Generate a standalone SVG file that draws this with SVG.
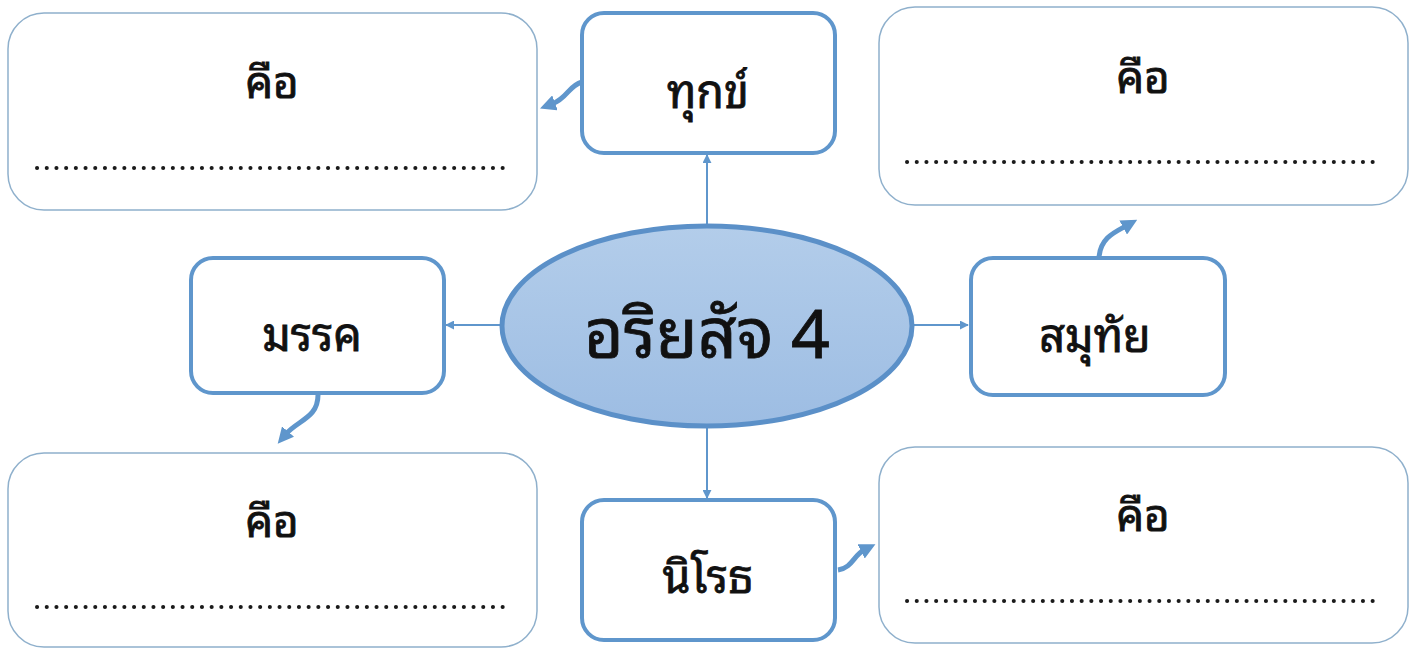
<svg xmlns="http://www.w3.org/2000/svg" width="1416" height="648" viewBox="0 0 1416 648">
<defs>
<style>
.ans{fill:#ffffff;stroke:#8fb0cc;stroke-width:1.5}
.lab{fill:#ffffff;stroke:#5f96cc;stroke-width:4}
.t{font-family:"Noto Sans Thai Looped","Noto Serif Thai","Noto Sans Thai","Noto Sans","Liberation Sans",sans-serif;fill:#111;text-anchor:middle;stroke:#111;stroke-width:0.8}
.dots{stroke:#1a1a1a;stroke-width:4;stroke-dasharray:0.1 9.6;stroke-linecap:round;fill:none}
.con{stroke:#5f96cc;stroke-width:2;fill:none}
.curv{stroke:#5f96cc;stroke-width:5;fill:none}
</style>
<marker id="ah" viewBox="0 0 10 10" refX="9" refY="5" markerWidth="9" markerHeight="9" orient="auto" markerUnits="userSpaceOnUse">
<path d="M0,0 L10,5 L0,10 z" fill="#5f96cc"/>
</marker>
<marker id="ahb" viewBox="0 0 10 10" refX="2" refY="5" markerWidth="16" markerHeight="16" orient="auto" markerUnits="userSpaceOnUse">
<path d="M0,0 L10,5 L0,10 z" fill="#5f96cc"/>
</marker>
<linearGradient id="eg" x1="0" y1="0" x2="0" y2="1">
<stop offset="0" stop-color="#b3cdea"/>
<stop offset="1" stop-color="#9dbde3"/>
</linearGradient>
</defs>
<rect width="1416" height="648" fill="#ffffff"/>
<g id="connectors">
<line class="con" x1="707" y1="226" x2="707" y2="155" marker-end="url(#ah)"/>
<line class="con" x1="502" y1="325" x2="446" y2="325" marker-end="url(#ah)"/>
<line class="con" x1="912" y1="325" x2="968" y2="325" marker-end="url(#ah)"/>
<line class="con" x1="707" y1="427" x2="707" y2="498" marker-end="url(#ah)"/>
<path class="curv" d="M582,82 C568,86 568,98 552,104" marker-end="url(#ahb)"/>
<path class="curv" d="M1099,258 C1100,238 1115,232 1126,226" marker-end="url(#ahb)"/>
<path class="curv" d="M318,395 C318,418 298,420 286,434" marker-end="url(#ahb)"/>
<path class="curv" d="M838,570 C852,568 854,555 864,550" marker-end="url(#ahb)"/>
</g>
<g id="ans-tl">
<rect class="ans" x="8" y="13" width="529" height="197" rx="36"/>
<text class="t" x="272" y="98" font-size="44">คือ</text>
<line class="dots" x1="37" y1="168" x2="506" y2="168"/>
</g>
<g id="ans-tr">
<rect class="ans" x="879" y="7" width="529" height="198" rx="36"/>
<text class="t" x="1143" y="93" font-size="44">คือ</text>
<line class="dots" x1="907" y1="162" x2="1379" y2="162"/>
</g>
<g id="ans-bl">
<rect class="ans" x="8" y="453" width="529" height="194" rx="36"/>
<text class="t" x="272" y="537" font-size="44">คือ</text>
<line class="dots" x1="37" y1="607" x2="506" y2="607"/>
</g>
<g id="ans-br">
<rect class="ans" x="879" y="447" width="529" height="196" rx="36"/>
<text class="t" x="1143" y="531" font-size="44">คือ</text>
<line class="dots" x1="907" y1="601" x2="1379" y2="601"/>
</g>
<g id="dukkha">
<rect class="lab" x="582" y="13" width="253" height="140" rx="22"/>
<text class="t" x="708" y="108" font-size="45">ทุกข์</text>
</g>
<g id="magga">
<rect class="lab" x="191" y="258" width="253" height="135" rx="22"/>
<text class="t" x="312" y="351" font-size="45">มรรค</text>
</g>
<g id="samudaya">
<rect class="lab" x="971" y="258" width="254" height="137" rx="22"/>
<text class="t" x="1095" y="352" font-size="45">สมุทัย</text>
</g>
<g id="nirodha">
<rect class="lab" x="582" y="500" width="253" height="140" rx="22"/>
<text class="t" x="708" y="593" font-size="45">นิโรธ</text>
</g>
<g id="center">
<ellipse cx="707" cy="326" rx="205" ry="100" fill="url(#eg)" stroke="#5b90c8" stroke-width="5"/>
<text class="t" x="707" y="358" font-size="68" stroke-width="1.2">อริยสัจ 4</text>
</g>
</svg>
